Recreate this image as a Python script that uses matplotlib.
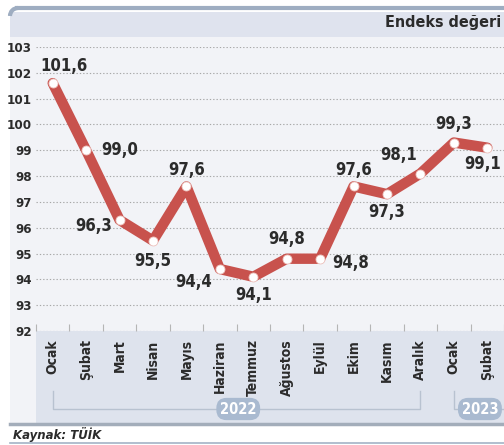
import matplotlib
matplotlib.use("Agg")
import matplotlib.pyplot as plt
from matplotlib.patches import Rectangle, Arc
from matplotlib.lines import Line2D

# data
months = ["Ocak", "Şubat", "Mart", "Nisan", "Mayıs", "Haziran", "Temmuz",
          "Ağustos", "Eylül", "Ekim", "Kasım", "Aralık", "Ocak", "Şubat"]
values = [101.6, 99.0, 96.3, 95.5, 97.6, 94.4, 94.1, 94.8, 94.8, 97.6, 97.3, 98.1, 99.3, 99.1]
years = ["2022", "2023"]
year_start = [0, 12]
year_end = [11, 14]
y_ticks = list(range(92, 104))

# label offsets in points (dx, dy), per point
offsets = [(8, 12), (24, 0), (-19, -4), (0, -15), (0, 12), (-19, -9), (0, -13),
           (0, 14), (22, -3), (0, 12), (0, -13), (-16, 13), (0, 13), (-3, -12)]

FONT = "DejaVu Sans"
red = "#c8524d"
dark = "#2b2b2b"

W, H = 504, 445
fig = plt.figure(figsize=(W / 100, H / 100), dpi=100)
fig.patch.set_facecolor("white")

def fx(px):
    return px / W

def fy(py):
    return 1 - py / H

# panel background
fig.patches.append(Rectangle((fx(10), fy(423)), 1, fy(37) - fy(423), transform=fig.transFigure,
                             facecolor="#f2f3f7", edgecolor="none", zorder=-5))
# header band
fig.patches.append(Rectangle((fx(10), fy(37)), 1, fy(12) - fy(37), transform=fig.transFigure,
                             facecolor="#dfe3ee", edgecolor="none", zorder=-5))
fig.lines.append(Line2D([fx(17), 1], [fy(8), fy(8)], transform=fig.transFigure,
                        color="#9eadc1", linewidth=3, zorder=-4))
fig.patches.append(Arc((fx(18), fy(16)), 2 * 8 / W, 2 * 8 / H, theta1=90, theta2=180,
                       transform=fig.transFigure, color="#9eadc1", linewidth=3, zorder=-4))
# x label area
fig.patches.append(Rectangle((fx(36), fy(423)), 1, fy(331) - fy(423), transform=fig.transFigure,
                             facecolor="#dee3ed", edgecolor="none", zorder=-5))
# bottom lines
fig.lines.append(Line2D([fx(10), 1], [fy(424), fy(424)], transform=fig.transFigure,
                        color="#a3adba", linewidth=2.5, zorder=-4))
fig.lines.append(Line2D([fx(10), 1], [fy(443), fy(443)], transform=fig.transFigure,
                        color="#a3b3c6", linewidth=1.2, zorder=-4))

fig.text(fx(501), fy(22), "Endeks değeri", ha="right", va="center", fontsize=11.5,
         fontweight="bold", family=FONT, fontstretch="condensed", color=dark)
fig.text(fx(13), fy(434), "Kaynak: TÜİK", ha="left", va="center", fontsize=8.5,
         fontweight="bold", style="italic", family=FONT, color=dark)

ax = fig.add_axes([fx(36), fy(331), 1 - fx(36), fy(47) - fy(331)])
ax.set_facecolor("none")
x = list(range(len(values)))
ax.set_xlim(-0.5, (W - 36) / 34.2 - 0.5)
ax.set_ylim(92, 103)

ax.plot(x, values, color=red, linewidth=7.5, solid_joinstyle="round", solid_capstyle="round",
        zorder=3, clip_on=False)
ax.plot(x, values, linestyle="none", marker="o", markersize=6.5, markerfacecolor="white",
        markeredgecolor="#eec4bf", markeredgewidth=0.6, zorder=4, clip_on=False)

for xi, v, (dx, dy) in zip(x, values, offsets):
    ax.annotate(f"{v:.1f}".replace(".", ","), (xi, v), xytext=(dx, dy), textcoords="offset points",
                ha="center", va="center", fontsize=12, family=FONT, fontstretch="condensed",
                fontweight="bold", color=dark, annotation_clip=False, zorder=5)

ax.set_yticks(y_ticks)
ax.set_yticklabels([str(t) for t in y_ticks], family=FONT, fontsize=9.5, color=dark,
                   fontstretch="condensed", fontweight="bold")
ax.yaxis.grid(True, linestyle=(0, (1.2, 1.8)), color="#a8a8a8", linewidth=0.8)
ax.tick_params(axis="y", length=0, pad=3)

ax.set_xticks(x)
ax.set_xticklabels(months, rotation=90, family=FONT, fontsize=10, color=dark, va="top",
                   fontstretch="condensed", fontweight="bold")
ax.tick_params(axis="x", which="major", length=0, pad=6)
ax.set_xticks([i - 0.5 for i in range(len(values) + 1)], minor=True)
ax.tick_params(axis="x", which="minor", direction="in", length=5, color="#b5b5b5", width=0.8)
for s in ax.spines.values():
    s.set_visible(False)

# year brackets under the month labels
trans = ax.get_xaxis_transform()
yb = -(409 - 331) / 284
yt = -(391 - 331) / 284
for yr, a, b in zip(years, year_start, year_end):
    mid = (a + b) / 2 + 0.05 if b - a > 3 else a + 0.78
    ax.plot([a, a, b, b], [yt, yb, yb, yt], color="#b8c2d0", linewidth=1, transform=trans,
            clip_on=False, zorder=2)
    ax.text(mid, yb, yr, transform=trans, ha="center", va="center", fontsize=10.5,
            family=FONT, fontstretch="condensed", fontweight="bold", color="white", zorder=3,
            bbox=dict(boxstyle="round,pad=0.25,rounding_size=0.7", facecolor="#a9bad0",
                      edgecolor="none"))

fig.savefig("out.png", dpi=100)
